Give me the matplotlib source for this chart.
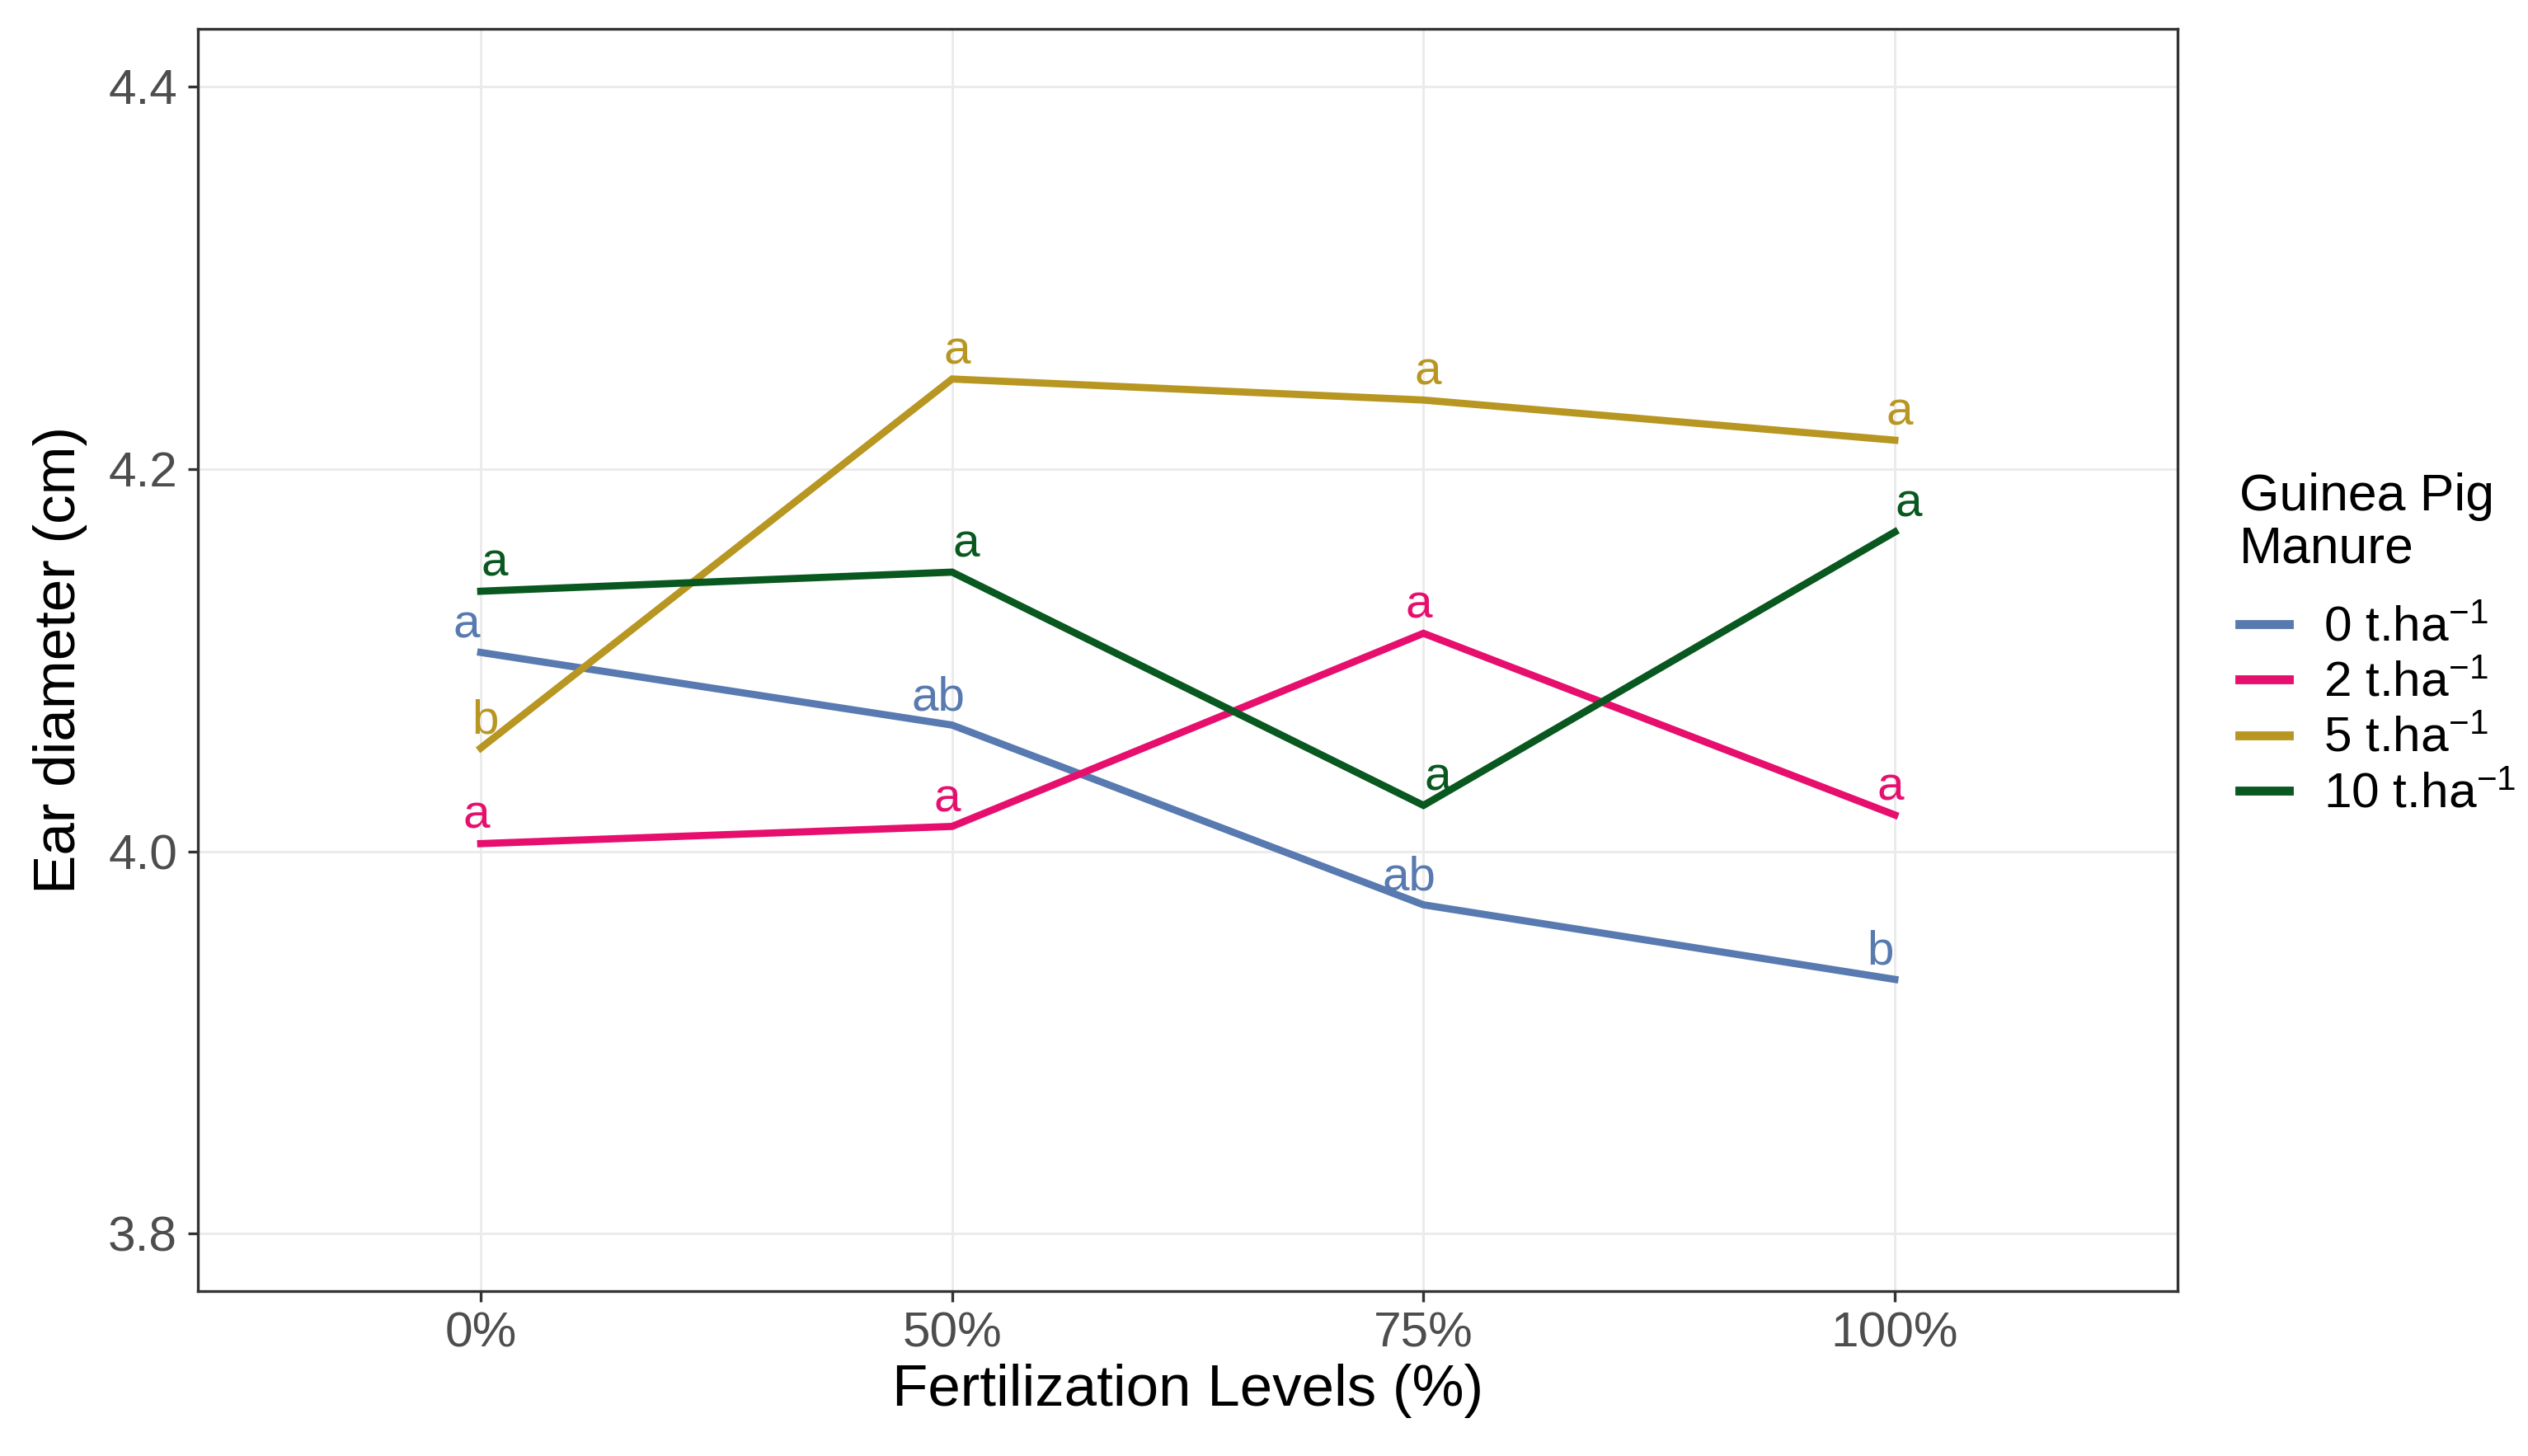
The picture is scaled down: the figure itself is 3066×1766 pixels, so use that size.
import numpy as np
import matplotlib
matplotlib.use("Agg")
import matplotlib.pyplot as plt

plt.rcParams['font.family'] = ['Liberation Sans', 'DejaVu Sans']
plt.rcParams['mathtext.fontset'] = 'custom'
plt.rcParams['mathtext.rm'] = 'Liberation Sans'
plt.rcParams['mathtext.it'] = 'Liberation Sans'

levels = ["0%", "50%", "75%", "100%"]
manure = ["0", "2", "5", "10"]
colors = ["#587AB0", "#E60F6E", "#B89622", "#085820"]

diam_0 = [4.104, 4.066, 3.972, 3.933]
diam_2 = [4.004, 4.013, 4.114, 4.019]
diam_5 = [4.054, 4.247, 4.236, 4.215]
diam_10 = [4.136, 4.146, 4.024, 4.167]

let_0 = ["a", "ab", "ab", "b"]
let_2 = ["a", "a", "a", "a"]
let_5 = ["b", "a", "a", "a"]
let_10 = ["a", "a", "a", "a"]

series = [diam_0, diam_2, diam_5, diam_10]
letters = [let_0, let_2, let_5, let_10]
dodge = [-0.03, -0.01, 0.01, 0.03]

fig = plt.figure(figsize=(3066 / 300, 1766 / 300), dpi=300)
ax = fig.add_axes([0.0783, 0.1133, 0.8614 - 0.0783, 0.980 - 0.1133])

x = np.arange(len(levels))
for vals, labs, col, m, dx in zip(series, letters, colors, manure, dodge):
    ax.plot(x, vals, color=col, lw=2.1, label=m + r" t.ha$^{\mathregular{-1}}$",
            solid_joinstyle="miter")
    for xi, v, t in zip(x, vals, labs):
        ax.annotate(t, (xi + dx, v), xytext=(0, 1.5), textcoords="offset points",
                    ha="center", va="bottom", color=col, fontsize=14)

ax.set_xlim(-0.6, 3.6)
ax.set_ylim(3.77, 4.43)
ax.set_xticks(x)
ax.set_xticklabels(levels)
ax.set_yticks([3.8, 4.0, 4.2, 4.4])
ax.set_yticklabels(["3.8", "4.0", "4.2", "4.4"])
ax.grid(True, color="#EBEBEB", lw=0.7)
ax.set_axisbelow(True)
for s in ax.spines.values():
    s.set_color("#333333")
    s.set_linewidth(0.8)
ax.tick_params(colors="#333333", length=3, width=0.8, labelsize=14.5,
               labelcolor="#4D4D4D", pad=3)

ax.set_xlabel("Fertilization Levels (%)", fontsize=17, labelpad=2)
ax.set_ylabel("Ear diameter (cm)", fontsize=17, labelpad=6)

leg = fig.legend(title="Guinea Pig\nManure", loc="center left",
                 bbox_to_anchor=(0.868, 0.557), frameon=False, fontsize=14.5,
                 title_fontsize=15, handlelength=1.0, handletextpad=0.7,
                 labelspacing=0.2)
leg._legend_box.align = "left"
leg._legend_box.sep = 9.6
leg.get_title().set_linespacing(1.1)
for line in leg.get_lines():
    line.set_linewidth(2.6)

fig.savefig("out.png", dpi=300)
